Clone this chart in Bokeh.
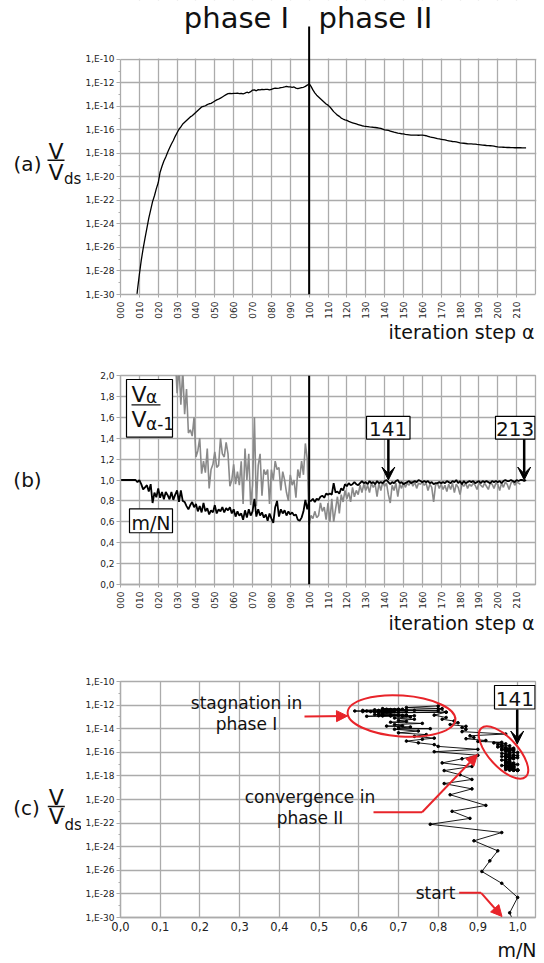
import math
from bokeh.plotting import figure
from bokeh.layouts import column, row
from bokeh.models import (Range1d, FixedTicker, CustomJSTickFormatter, Label, Arrow,
                          VeeHead, NormalHead, BoxAnnotation, Span)
from bokeh.embed import file_html
from bokeh.resources import INLINE

# ---------------- data ----------------
steps = list(range(0, 216))                      # iteration step alpha

# m/N for steps 0..215
mn = [
    1.0, 1.0, 1.0, 1.0, 1.0, 1.0, 1.0, 1.0, 1.0,
    0.98, 1.0, 0.96, 0.91, 0.93, 0.95, 0.89, 0.96, 0.78, 0.88,
    0.835, 0.92, 0.83, 0.885, 0.815, 0.885, 0.855, 0.815, 0.885, 0.81,
    0.86, 0.90, 0.79, 0.90, 0.80, 0.79, 0.75, 0.72, 0.76, 0.79,
    0.74, 0.77, 0.70, 0.75, 0.69, 0.78, 0.70, 0.73, 0.67, 0.71,
    0.69, 0.76, 0.68, 0.72, 0.70, 0.74, 0.69, 0.73, 0.71, 0.74,
    0.68, 0.72, 0.65, 0.70, 0.66, 0.68, 0.62, 0.71, 0.64, 0.72,
    0.66, 0.70, 0.82, 0.65, 0.72, 0.66, 0.69, 0.64, 0.67, 0.61,
    0.68, 0.63, 0.59, 0.74, 0.80, 0.65, 0.72, 0.68, 0.71, 0.66,
    0.70, 0.67, 0.69, 0.66, 0.67, 0.62, 0.61, 0.64, 0.70, 0.81,
    0.72, 0.80,
    0.80, 0.82, 0.79, 0.82, 0.81, 0.84, 0.85, 0.83, 0.87, 0.86,
    0.87, 0.86, 0.97, 0.88, 0.89, 0.87, 0.92, 0.90, 0.96, 0.94,
    0.97, 0.95, 0.96, 0.98, 0.96, 0.95, 0.97, 0.99, 0.97, 0.98,
    0.96, 0.99, 0.97, 0.98, 0.96, 0.99, 0.97, 0.98, 0.97, 0.99,
    1.0, 0.98, 0.96, 0.98, 0.97, 0.99, 1.0, 0.97, 0.98, 0.96,
    0.97, 0.98, 0.99, 0.97, 0.98, 0.99, 0.98, 1.0, 0.99, 0.98,
    0.99, 0.98, 0.99, 0.97, 0.98, 0.96, 0.97, 0.97, 0.98, 0.97,
    0.98, 0.97, 0.99, 0.98, 0.97, 0.99, 0.98, 1.0, 0.97, 0.99,
    0.96, 0.99, 0.97, 0.98, 0.99, 0.98, 0.99, 0.97, 0.98, 0.99,
    0.97, 0.99, 0.98, 0.99, 0.98, 0.97, 0.99, 0.98, 0.99, 0.98,
    0.99, 0.97, 0.99, 1.0, 0.99, 0.99, 1.0, 0.99, 0.98, 1.0,
    0.99, 1.0, 1.0, 0.99, 1.0,
]

# exponent of V / V_ds for steps 8..215
v_first_step = 8
v_exp = [
    -31.2,
    -29.6, -28.3, -27.1, -26.1, -25.2, -24.35, -23.5, -22.8, -22.1, -21.6,
    -21.0, -20.5, -19.6, -19.1, -18.65, -18.3, -17.9, -17.55, -17.2, -16.9,
    -16.55, -16.25, -15.95, -15.75, -15.5, -15.35, -15.2, -15.05, -14.9, -14.8,
    -14.65, -14.5, -14.35, -14.2, -14.05, -14.0, -13.95, -13.85, -13.78, -13.75,
    -13.65, -13.55, -13.45, -13.38, -13.3, -13.2, -13.1, -13.0, -12.92, -12.9,
    -12.92, -12.9, -12.9, -12.88, -12.92, -12.9, -12.95, -12.88, -12.8, -12.85,
    -12.75, -12.62, -12.6, -12.68, -12.58, -12.6, -12.55, -12.58, -12.55, -12.55,
    -12.6, -12.55, -12.5, -12.45, -12.48, -12.45, -12.4, -12.38, -12.35, -12.3,
    -12.35, -12.35, -12.38, -12.35, -12.45, -12.5, -12.45, -12.4, -12.38, -12.3,
    -12.2, -12.07,
    -12.3, -12.6, -12.85, -13.05, -13.2, -13.35, -13.5, -13.65, -13.8, -13.9,
    -14.05, -14.25, -14.45, -14.6, -14.75, -14.85, -15.0, -15.08, -15.15, -15.2,
    -15.28, -15.35, -15.4, -15.45, -15.5, -15.55, -15.6, -15.65, -15.68, -15.7,
    -15.72, -15.75, -15.77, -15.78, -15.8, -15.82, -15.85, -15.88, -15.93, -16.0,
    -16.02, -16.05, -16.1, -16.15, -16.2, -16.24, -16.28, -16.3, -16.33, -16.35,
    -16.38, -16.4, -16.42, -16.44, -16.45, -16.45, -16.45, -16.46, -16.45, -16.45,
    -16.47, -16.5, -16.55, -16.6, -16.63, -16.66, -16.7, -16.74, -16.77, -16.8,
    -16.83, -16.86, -16.9, -16.93, -16.96, -16.99, -17.0, -17.03, -17.06, -17.1,
    -17.12, -17.14, -17.16, -17.18, -17.19, -17.2, -17.21, -17.22, -17.24, -17.25,
    -17.27, -17.29, -17.31, -17.33, -17.34, -17.35, -17.37, -17.39, -17.42, -17.45,
    -17.46, -17.47, -17.48, -17.49, -17.5, -17.5, -17.51, -17.51, -17.52, -17.52,
    -17.52, -17.52, -17.53, -17.53, -17.53,
]

# V_alpha / V_alpha-1 for steps 28..212
ratio_first_step = 28
ratio = [
    2.6, 2.2, 1.83, 2.1, 1.72, 2.05, 1.63, 1.87, 1.45, 1.48,
    1.42, 1.60, 1.22, 1.28, 1.40, 1.06, 1.18, 1.07, 1.30, 0.92,
    1.10, 1.15, 1.27, 1.12, 1.14, 1.40, 1.25, 1.22, 1.36, 1.25,
    0.94, 1.00, 1.15, 0.96, 1.08, 0.95, 1.18, 0.77, 1.30, 1.00,
    1.25, 0.76, 0.95, 1.60, 0.75, 1.14, 1.25, 0.85, 1.10, 1.05,
    1.10, 0.77, 1.10, 1.00, 1.18, 1.10, 1.12, 0.90, 1.08, 1.00,
    0.88, 0.80, 1.05, 0.95, 1.00, 0.83, 1.10, 1.02, 1.18, 1.05,
    1.35, 1.20,
    0.57, 0.66, 0.63, 0.70, 0.64, 0.66, 0.78, 0.70, 0.74, 0.62,
    0.78, 0.60, 0.82, 0.60, 0.72, 0.84, 0.68, 0.86, 0.79, 0.90,
    0.82, 0.88, 0.79, 0.93, 0.84, 0.90, 0.86, 0.95, 0.88, 0.96,
    0.90, 0.95, 0.88, 0.97, 0.93, 0.96, 0.84, 0.97, 0.90, 0.98,
    0.94, 0.97, 0.86, 0.78, 0.95, 0.90, 0.97, 0.84, 0.96, 0.92,
    0.98, 0.93, 0.97, 0.95, 0.99, 0.94, 0.98, 0.92, 0.97, 0.96,
    0.98, 0.95, 0.97, 0.90, 0.96, 0.93, 0.79, 0.95, 0.97, 0.92,
    0.96, 0.91, 0.95, 0.89, 0.96, 0.91, 0.97, 0.88, 0.96, 0.93,
    0.86, 0.96, 0.94, 0.97, 0.92, 0.96, 0.94, 0.97, 0.95, 0.91,
    0.97, 0.95, 0.93, 0.97, 0.94, 0.91, 0.97, 0.96, 0.92, 0.97,
    0.96, 0.90, 0.97, 0.93, 0.98, 0.96, 0.91, 0.97, 0.99, 0.95,
    0.98, 0.97, 0.96,
]

phase_boundary = 100
x_ticks = list(range(0, 211, 10))
y_exp_major = [-30, -28, -26, -24, -22, -20, -18, -16, -14, -12, -10]
y_exp_minor = [-29, -27, -25, -23, -21, -19, -17, -15, -13, -11]
b_ticks = [0.0, 0.2, 0.4, 0.6, 0.8, 1.0, 1.2, 1.4, 1.6, 1.8, 2.0]
c_ticks = [0.0, 0.1, 0.2, 0.3, 0.4, 0.5, 0.6, 0.7, 0.8, 0.9, 1.0]
marked_steps = [141, 213]

# ---------------- derived ----------------
v_steps = steps[v_first_step:]
v_vals = [10.0 ** e for e in v_exp]
ratio_steps = steps[ratio_first_step:ratio_first_step + len(ratio)]
mn_for_v = mn[v_first_step:]

# ---------------- styling ----------------
FONT = "DejaVu Sans"
GRID = "#ababab"
RED = "#e8242a"
INK = "#111111"
LEFT_W = 81          # width of the left label strip
MAIN_W = 544 - LEFT_W
FRAME_L, FRAME_R = 120, 535
PX_PER_STEP = (FRAME_R - FRAME_L) / 220.0

# page-pixel -> data helpers
def ab_x(px):
    return (px - FRAME_L) / PX_PER_STEP

def c_x(px):
    return (px - FRAME_L) * 1.045 / (FRAME_R - FRAME_L)

def a_y(py):
    return 10 ** (-10 - (py - 59) / 11.8)

def b_y(py):
    return (585 - py) / 105.0

def c_y(py):
    return 10 ** (-10 - (py - 681) / 11.8)

def mid(baseline, size):
    # vertical centre of a text line whose baseline is given
    return baseline - 0.35 * size


def plain_fig(width, height, x_range, y_range):
    p = figure(width=width, height=height, x_range=x_range, y_range=y_range,
               output_backend="svg", toolbar_location=None, title=None,
               x_axis_location=None, y_axis_location=None,
               min_border_left=0, min_border_right=0,
               min_border_top=0, min_border_bottom=0)
    p.outline_line_color = None
    p.background_fill_color = "white"
    p.border_fill_color = "white"
    p.grid.visible = False
    return p


def make_fig(height, top, bottom, x_range, y_range, y_log, right=544 - FRAME_R):
    p = figure(width=MAIN_W, height=height, x_range=x_range, y_range=y_range,
               y_axis_type="log" if y_log else "linear",
               output_backend="svg", toolbar_location=None, title=None,
               min_border_left=FRAME_L - LEFT_W, min_border_right=right,
               min_border_top=top, min_border_bottom=bottom)
    p.background_fill_color = "white"
    p.border_fill_color = "white"
    p.outline_line_color = GRID
    p.outline_line_width = 1.3
    for ax in (p.xaxis[0], p.yaxis[0]):
        ax.axis_line_color = GRID
        ax.axis_line_width = 1.3
        ax.major_tick_line_color = GRID
        ax.minor_tick_line_color = GRID
        ax.major_tick_in = 0
        ax.major_tick_out = 4
        ax.minor_tick_in = 0
        ax.minor_tick_out = 2
        ax.major_label_text_font = FONT
        ax.major_label_text_font_size = "9px"
        ax.major_label_text_color = "#222222"
        ax.major_label_standoff = 2
    for g in (p.xgrid[0], p.ygrid[0]):
        g.grid_line_color = GRID
        g.grid_line_width = 1.3
    return p


def label(p, x, y, s, size, align="left", color=INK):
    p.add_layout(Label(x=x, y=y, text=s, text_font=FONT, text_font_size=f"{size}px",
                       text_align=align, text_baseline="middle", text_color=color))


def seg(p, x0, y0, x1, y1, color="black", width=1.5, head=None):
    p.add_layout(Arrow(x_start=x0, y_start=y0, x_end=x1, y_end=y1, end=head,
                       line_color=color, line_width=width))


def box(p, l, r, b, t, line=True):
    p.add_layout(BoxAnnotation(left=l, right=r, bottom=b, top=t, fill_color="white",
                               fill_alpha=1.0, line_color="black" if line else None,
                               line_width=1.2, line_alpha=1.0))


def x_step_axis(p):
    ax = p.xaxis[0]
    ax.ticker = FixedTicker(ticks=x_ticks)
    ax.formatter = CustomJSTickFormatter(code="return String(Math.round(tick)).padStart(3, '0');")
    ax.major_label_orientation = math.pi / 2
    ax.minor_tick_line_color = None
    ax.major_tick_out = 3
    ax.major_label_standoff = 4


def log_y_axis(p):
    ax = p.yaxis[0]
    ax.ticker = FixedTicker(ticks=[10.0 ** e for e in y_exp_major],
                            minor_ticks=[10.0 ** e for e in y_exp_minor])
    ax.formatter = CustomJSTickFormatter(code="return '1,E' + Math.round(Math.log10(tick));")


def vfrac(p, xc, top_base, bar_y, bot_base, ds_x, ds_base):
    label(p, xc, mid(top_base, 22), "V", 22, align="center")
    p.segment(x0=[xc - 8.5], y0=[bar_y], x1=[xc + 8.5], y1=[bar_y], line_color=INK, line_width=1.5)
    label(p, xc, mid(bot_base, 22), "V", 22, align="center")
    label(p, ds_x, mid(ds_base, 15), "ds", 15)


def text_strip(height, top_py, text, right_px, base_py):
    s = plain_fig(544, height, Range1d(0, 544), Range1d(top_py + height, top_py))
    label(s, right_px, mid(base_py, 19), text, 19, align="right")
    return s


# ================= panel (a) (frame reaches page top; area above 1E-10 masked) =================
la = plain_fig(LEFT_W, 321, Range1d(0, LEFT_W), Range1d(321, 0))
label(la, 27, 178, "(a)", 20, align="center")
vfrac(la, 55.5, 173, 174.5, 195, 63.5, 200)

pa = make_fig(321, 0, 26, Range1d(0, (536 - FRAME_L) / PX_PER_STEP),
              Range1d(1e-30, a_y(0)), True, right=544 - 536)
x_step_axis(pa)
log_y_axis(pa)
pa.outline_line_color = None
pa.yaxis[0].bounds = (1e-30, 1e-10)
pa.xaxis[0].bounds = (0, 220)
pa.line(v_steps, v_vals, line_color="black", line_width=1.3)
pa.segment(x0=[220], y0=[1e-30], x1=[220], y1=[1e-10], line_color=GRID, line_width=1.3)
box(pa, None, None, a_y(58.3), None, line=False)
seg(pa, phase_boundary, 1e-30, phase_boundary, a_y(26), color="black", width=2)
label(pa, ab_x(236), a_y(mid(28, 29)), "phase I", 29, align="center")
label(pa, ab_x(375), a_y(mid(28, 29)), "phase II", 29, align="center")

sa = text_strip(24, 321, "iteration step α", 534, 338)

# ================= panel (b) =================
lb = plain_fig(LEFT_W, 266, Range1d(0, LEFT_W), Range1d(611, 345))
label(lb, 27, 478, "(b)", 20, align="center")

pb = make_fig(266, 30, 26, Range1d(0, 220), Range1d(0, 2.0), False)
x_step_axis(pb)
pb.yaxis[0].ticker = FixedTicker(ticks=b_ticks)
pb.yaxis[0].formatter = CustomJSTickFormatter(code="return tick.toFixed(1).replace('.', ',');")
pb.yaxis[0].minor_tick_line_color = None
pb.line(ratio_steps, ratio, line_color="#8a8a8a", line_width=1.6)
pb.line(steps, mn, line_color="black", line_width=1.8)
pb.add_layout(Span(location=phase_boundary, dimension="height", line_color="black", line_width=2))
# ratio legend box
box(pb, ab_x(126), ab_x(172), b_y(437), b_y(379))
label(pb, ab_x(131), b_y(mid(401.5, 22)), "V", 22)
label(pb, ab_x(145.5), b_y(mid(403, 17)), "α", 17)
seg(pb, ab_x(131), b_y(404.5), ab_x(160), b_y(404.5), color=INK, width=1.4)
label(pb, ab_x(131), b_y(mid(427, 22)), "V", 22)
label(pb, ab_x(145.5), b_y(mid(430, 17)), "α-1", 17)
# m/N legend box
box(pb, ab_x(129), ab_x(172), b_y(533), b_y(509))
label(pb, ab_x(150.5), b_y(mid(530, 19)), "m/N", 19, align="center")
# markers 141 and 213
box(pb, ab_x(366), ab_x(409.5), b_y(439), b_y(416))
label(pb, ab_x(387.7), b_y(mid(435.5, 20)), str(marked_steps[0]), 20, align="center")
seg(pb, marked_steps[0] + 1, b_y(439), marked_steps[0] + 1, 1.0, color="black", width=2.5,
    head=VeeHead(size=13, fill_color="black", line_color="black"))
box(pb, ab_x(495), ab_x(534.5), b_y(439), b_y(416))
label(pb, ab_x(514.7), b_y(mid(435.5, 20)), str(marked_steps[1]), 20, align="center")
seg(pb, marked_steps[1] + 1, b_y(439), marked_steps[1] + 1, 1.0, color="black", width=2.5,
    head=VeeHead(size=13, fill_color="black", line_color="black"))

sb = text_strip(24, 611, "iteration step α", 534, 629)

# ================= panel (c) =================
lc = plain_fig(LEFT_W, 302, Range1d(0, LEFT_W), Range1d(937, 635))
label(lc, 26, 797, "(c)", 20, align="center")
vfrac(lc, 55.8, 791.5, 795, 815, 64, 824)

pc = make_fig(302, 46, 20, Range1d(0, 1.045), Range1d(1e-30, 1e-10), True)
log_y_axis(pc)
pc.xaxis[0].ticker = FixedTicker(ticks=c_ticks)
pc.xaxis[0].formatter = CustomJSTickFormatter(code="return tick.toFixed(1).replace('.', ',');")
pc.xaxis[0].minor_tick_line_color = None
pc.xaxis[0].major_tick_out = 0
pc.xaxis[0].major_label_standoff = 4
pc.xaxis[0].major_label_text_font_size = "11.5px"
pc.line(mn_for_v, v_vals, line_color="black", line_width=0.9)
pc.scatter(mn_for_v, v_vals, size=2.6, color="black")
# red ellipses
pc.ellipse(x=[c_x(401)], y=[c_y(715.5)], width=108, height=41, angle=-0.07,
           width_units="screen", height_units="screen",
           fill_color=None, line_color=RED, line_width=2)
pc.ellipse(x=[c_x(503)], y=[c_y(752)], width=66, height=29, angle=-0.83,
           width_units="screen", height_units="screen",
           fill_color=None, line_color=RED, line_width=2)
# red arrows
seg(pc, c_x(304), c_y(716), c_x(347), c_y(715.5), color=RED, width=2,
    head=NormalHead(size=11, fill_color=RED, line_color=RED))
seg(pc, c_x(373), c_y(811.7), c_x(421.6), c_y(811.7), color=RED, width=2)
seg(pc, c_x(421.6), c_y(811.7), c_x(477), c_y(754), color=RED, width=2,
    head=NormalHead(size=11, fill_color=RED, line_color=RED))
seg(pc, c_x(458.7), c_y(892.3), c_x(480.6), c_y(892.3), color=RED, width=2)
seg(pc, c_x(480.6), c_y(892.3), c_x(501.5), c_y(916), color=RED, width=2,
    head=NormalHead(size=11, fill_color=RED, line_color=RED))
# annotation texts
label(pc, c_x(246), c_y(mid(708, 17)), "stagnation in", 17, align="center")
label(pc, c_x(246), c_y(mid(729.5, 17)), "phase I", 17, align="center")
label(pc, c_x(309.5), c_y(mid(802.5, 17)), "convergence in", 17, align="center")
label(pc, c_x(309.5), c_y(mid(823, 17)), "phase II", 17, align="center")
label(pc, c_x(435), c_y(mid(898, 17)), "start", 17, align="center")
# 141 marker
box(pc, c_x(494), c_x(534.5), c_y(708.5), c_y(685))
label(pc, c_x(514.3), c_y(mid(705, 20)), str(marked_steps[0]), 20, align="center")
seg(pc, c_x(516.7), c_y(709), c_x(516.7), c_y(743.5), color="black", width=2.5,
    head=VeeHead(size=13, fill_color="black", line_color="black"))

sc = text_strip(25, 937, "m/N", 536, 956)

layout = column(row(la, pa), sa, row(lb, pb), sb, row(lc, pc), sc)
open("out.html", "w").write(file_html(layout, INLINE))
